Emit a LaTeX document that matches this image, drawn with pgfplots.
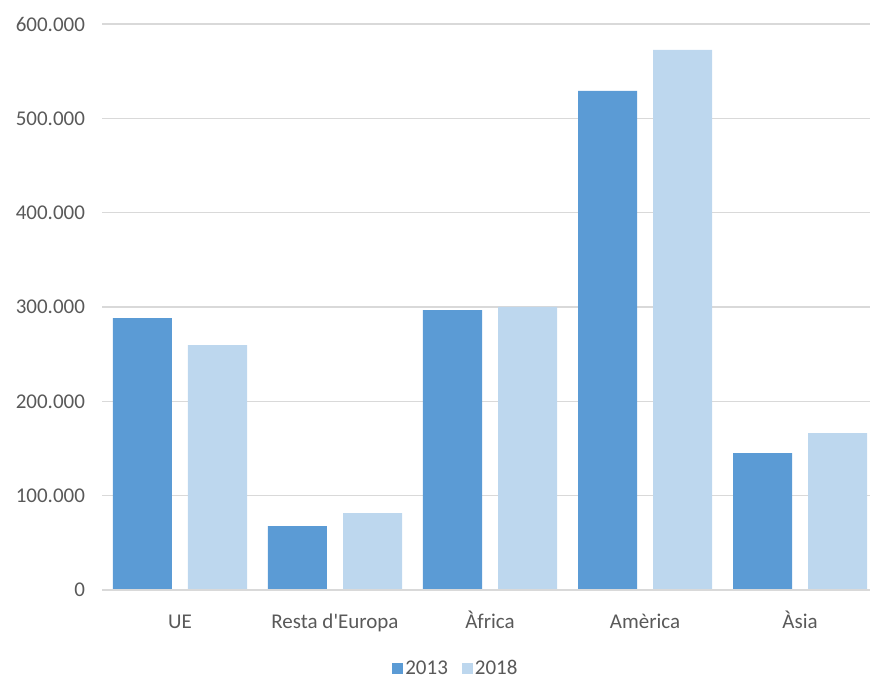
\documentclass[border=0pt]{standalone}
\usepackage{pgfplots}
\pgfplotsset{compat=1.18}
\usepackage{fontspec}
\setmainfont{Carlito}

\definecolor{blau}{HTML}{5B9BD5}
\definecolor{blauclar}{HTML}{BDD7EE}
\definecolor{reixa}{HTML}{D9D9D9}
\definecolor{textgris}{HTML}{595959}

\begin{document}
\begin{tikzpicture}
\begin{axis}[
    scale only axis,
    width=775pt, height=566pt,
    ybar=16pt, bar width=59pt,
    xmin=-0.5, xmax=4.5,
    ymin=0, ymax=600000,
    ytick={0,100000,...,600000},
    xtick=data,
    xticklabels={UE, Resta d\textquotesingle Europa, Àfrica, Amèrica, Àsia},
    axis line style={draw=none},
    tick style={draw=none},
    ymajorgrids, grid style={reixa, line width=1.2pt},
    font=\fontsize{21}{25}\selectfont,
    ticklabel style={text=textgris},
    xticklabel style={anchor=base, yshift=-34pt},
    yticklabel style={xshift=-14pt},
    scaled y ticks=false,
    /pgf/number format/.cd, fixed, 1000 sep={.}, assume math mode=true,
    /pgfplots/.cd,
    legend columns=2,
    legend style={draw=none, at={(0.456,-0.138)}, anchor=center,
        font=\fontsize{21}{25}\selectfont, text=textgris,
        /tikz/every even column/.append style={column sep=12pt}},
    legend image code/.code={\fill[#1] (-5pt,-5.5pt) rectangle (6pt,5.5pt);},
]
\addplot[fill=blau, draw=none] coordinates {(0,288300) (1,67800) (2,296800) (3,529000) (4,145200)};
\addplot[fill=blauclar, draw=none] coordinates {(0,259700) (1,81600) (2,300000) (3,572500) (4,166400)};
\legend{2013, 2018}
\draw[reixa, line width=1.4pt] (axis cs:-0.5,0) -- (axis cs:4.5,0);
\end{axis}
\pgfresetboundingbox
\useasboundingbox (-102.5pt,-89pt) rectangle (767.5pt,590pt);
\end{tikzpicture}
\end{document}
